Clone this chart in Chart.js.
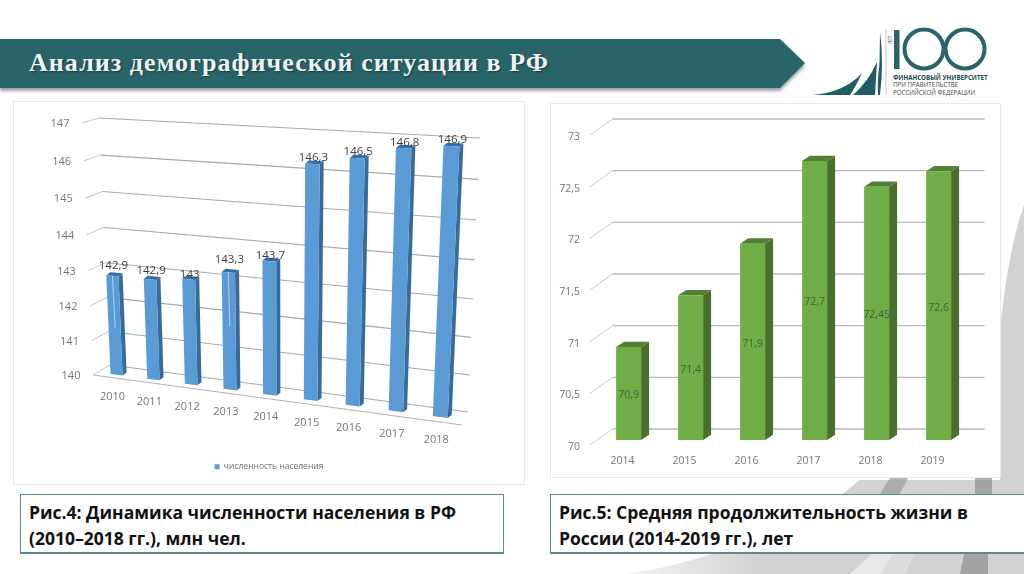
<!DOCTYPE html>
<html lang="ru">
<head>
    <meta charset="UTF-8">
    <title>Анализ демографической ситуации в РФ</title>
    <script src="https://cdn.jsdelivr.net/npm/chart.js"></script>
    <style>
        html, body {
            margin: 0;
            width: 1024px;
            height: 574px;
            overflow: hidden;
            background: #fff;
            font-family: "Open Sans", sans-serif;
        }
        .abs { position: absolute; }
        .header-text {
            left: 29px;
            top: 46px;
            font: bold 26px/34px "Liberation Serif", serif;
            letter-spacing: 1.05px;
            color: #eef4f4;
            text-shadow: 1px 1px 2px rgba(0, 0, 0, .45);
            white-space: nowrap;
        }
        .card {
            background: #fff;
            border: 1px solid #e8e8e8;
            box-sizing: border-box;
        }
        .caption {
            background: #fff;
            border: 1.5px solid #5e8a8e;
            border-bottom-width: 2px;
            box-sizing: border-box;
            top: 494px;
            height: 60px;
            padding: 5px 0 0 8px;
            font: bold 17.5px/25.5px "Open Sans", sans-serif;
            color: #111;
            white-space: nowrap;
        }
    </style>
</head>
<body>
    <!-- background swoosh and header shape -->
    <svg class="abs" style="left:0;top:0" width="1024" height="574" viewBox="0 0 1024 574">
        <defs>
            <filter id="soft"><feGaussianBlur stdDeviation="1.4"/></filter>
            <linearGradient id="fade" x1="625" x2="760" y1="0" y2="0" gradientUnits="userSpaceOnUse">
                <stop offset="0" stop-color="#f4f4f4"/>
                <stop offset="1" stop-color="#d2d2d2"/>
            </linearGradient>
        </defs>
        <path d="M1024 205 Q1008 250 1000 330 L1000 480 L860 480 L835 500 L835 554 L712 554 Q670 568 625 574 L1024 574 Z" fill="url(#fade)"/>
        <path d="M880 574 L893 554 L915 554 L905 574 Z M880 494 L890 478 L908 478 L900 494 Z" fill="#9a9a9a" opacity=".7"/>
        <path d="M960 574 L964 554 L988 554 L988 574 Z M975 494 L975 478 L992 478 L992 494 Z" fill="#8f8f8f" opacity=".7"/>
        <path d="M905 574 L915 554 L872 554 L850 574 Z" fill="#f1f1f1" opacity=".7"/>
        <path d="M0 42 L780 42 L805 66 L780 91 L0 91 Z" fill="#555" opacity=".55" filter="url(#soft)"/>
        <path d="M0 39 L780 39 L805 63 L780 88 L0 88 Z" fill="#296468"/>

        <!-- logo -->
        <path d="M813 95 Q845 92 862 73 Q855 88 850 95 Z" fill="#1f5f63"/>
        <path d="M853 95 Q868 82 877 62 L875 95 Z" fill="#1f5f63"/>
        <path d="M878 95 Q882 60 880 32 L879 95 Z M880 95 Q884 62 880 32 L880 95 Z" fill="#1f5f63"/>
        <path d="M880 62 Q877 80 878 95 L880 95 Z" fill="#1f5f63"/>
        <line x1="886" y1="29" x2="886" y2="95" stroke="#ccc"/>
        <rect x="894" y="30" width="5.5" height="39" fill="#296468"/>
        <circle cx="924" cy="49" r="19.5" fill="none" stroke="#296468" stroke-width="4"/>
        <circle cx="965" cy="49" r="19.5" fill="none" stroke="#296468" stroke-width="4"/>
        <text x="893" y="80" font-family="Open Sans" font-weight="700" font-size="6.2" fill="#1d4a4d">ФИНАНСОВЫЙ УНИВЕРСИТЕТ</text>
        <text x="893" y="87" font-family="Open Sans" font-size="6.2" fill="#444">ПРИ ПРАВИТЕЛЬСТВЕ</text>
        <text x="893" y="95" font-family="Open Sans" font-size="6.2" fill="#444">РОССИЙСКОЙ ФЕДЕРАЦИИ</text>
        <text transform="translate(892 44) rotate(-90)" font-family="Open Sans" font-size="4.5" fill="#444">ЛЕТ</text>
    </svg>

    <div class="abs header-text">Анализ демографической ситуации в РФ</div>

    <div class="abs card" style="left:13px;top:101px;width:512px;height:384px"></div>
    <div class="abs card" style="left:550px;top:103px;width:451px;height:375px"></div>
    <canvas class="abs" id="populationChart" width="510" height="382" style="left:14px;top:102px"></canvas>
    <canvas class="abs" id="lifeChart" width="449" height="373" style="left:551px;top:104px"></canvas>

    <div class="abs caption" style="left:20px;width:484px">Рис.4: Динамика численности населения в РФ<br>(2010–2018 гг.), млн чел.</div>
    <div class="abs caption" style="left:550px;width:490px">Рис.5: Средняя продолжительность жизни в<br>России (2014-2019 гг.), лет</div>

    <script>
        // Values
        const popYears = ['2010', '2011', '2012', '2013', '2014', '2015', '2016', '2017', '2018'];
        const popValues = [142.9, 142.9, 143, 143.3, 143.7, 146.3, 146.5, 146.8, 146.9];
        const popTicks = [140, 141, 142, 143, 144, 145, 146, 147];
        const popLabel = 'численность населения';
        const popGlints = [0, 3]; // the two bars with a light streak on them

        const lifeYears = ['2014', '2015', '2016', '2017', '2018', '2019'];
        const lifeValues = [70.9, 71.4, 71.9, 72.7, 72.45, 72.6];
        const lifeTicks = [70, 70.5, 71, 71.5, 72, 72.5, 73];

        // how far each data label sits above its bar in the left chart, not evenly placed in the original
        const popLabelLift = [10, 9, 5, 13, 5, 6, 6, 5, 6];

        const comma = v => String(v).replace('.', ',');

        function text(ctx, str, x, y, font, color, align) {
            ctx.font = font;
            ctx.fillStyle = color;
            ctx.textAlign = align || 'center';
            ctx.textBaseline = 'middle';
            ctx.fillText(str, x, y);
        }

        function segment(ctx, a, b, color, width) {
            ctx.beginPath();
            ctx.moveTo(a[0], a[1]);
            ctx.lineTo(b[0], b[1]);
            ctx.strokeStyle = color;
            ctx.lineWidth = width;
            ctx.stroke();
        }

        function face(ctx, pts, color) {
            ctx.beginPath();
            pts.forEach((p, i) => i ? ctx.lineTo(p[0], p[1]) : ctx.moveTo(p[0], p[1]));
            ctx.closePath();
            ctx.fillStyle = color;
            ctx.fill();
        }

        // Homography from the unit square to a quad [TL, TR, BR, BL], page coordinates
        function quadMap(q) {
            const [x0, y0] = q[0], [x1, y1] = q[1], [x2, y2] = q[2], [x3, y3] = q[3];
            const dx1 = x1 - x2, dx2 = x3 - x2, sx = x0 - x1 + x2 - x3;
            const dy1 = y1 - y2, dy2 = y3 - y2, sy = y0 - y1 + y2 - y3;
            const det = dx1 * dy2 - dx2 * dy1;
            const g = (sx * dy2 - dx2 * sy) / det, h = (dx1 * sy - sx * dy1) / det;
            const a = x1 - x0 + g * x1, b = x3 - x0 + h * x3;
            const d = y1 - y0 + g * y1, e = y3 - y0 + h * y3;
            return (s, t) => {
                const w = g * s + h * t + 1;
                return [(a * s + b * t + x0) / w, (d * s + e * t + y0) / w];
            };
        }

        // Left chart: tilted view, three planes of the 3D box
        const popOrigin = [14, 102];
        const wallMap = quadMap([[99, 118], [480, 138], [468, 412], [110, 365]]);
        const edgeMap = quadMap([[82, 123], [475, 145], [462, 425], [93, 375]]);
        const barMap = quadMap([[87, 126], [476, 143], [463, 420], [98.5, 372.4]]);

        const tiltedView = {
            id: 'tiltedView',
            beforeDatasetsDraw(chart) {
                const ctx = chart.ctx, area = chart.chartArea, yScale = chart.scales.y;
                const toPlane = (map, x, y) => {
                    const p = map((x - area.left) / area.width, (y - area.top) / area.height);
                    return [p[0] - popOrigin[0], p[1] - popOrigin[1]];
                };
                ctx.save();
                // grid on the back wall, stubs and axis labels in front of it
                popTicks.forEach(v => {
                    const y = yScale.getPixelForValue(v);
                    const front = toPlane(edgeMap, area.left, y);
                    const back = toPlane(wallMap, area.left, y);
                    segment(ctx, back, toPlane(wallMap, area.right, y), '#a8a8a8', 1.1);
                    segment(ctx, front, back, '#c4c4c4', 1);
                    text(ctx, String(v), front[0] - 22, front[1] + 1, '11px "Open Sans"', '#757575');
                });
                segment(ctx, toPlane(edgeMap, area.left, area.bottom), toPlane(edgeMap, area.right, area.bottom), '#b4b4b4', 1.1);

                const foot = yScale.getBasePixel();
                chart.getDatasetMeta(0).data.forEach((bar, i) => {
                    const half = bar.width / 2;
                    const tl = toPlane(barMap, bar.x - half, bar.y), tr = toPlane(barMap, bar.x + half, bar.y);
                    const br = toPlane(barMap, bar.x + half, foot), bl = toPlane(barMap, bar.x - half, foot);
                    const shift = p => [p[0] + 4, p[1] - 3];
                    face(ctx, [tr, shift(tr), shift(br), br], '#376b9c');
                    face(ctx, [tl, shift(tl), shift(tr), tr], '#336da3');
                    face(ctx, [tl, tr, br, bl], '#5b9bd5');
                    if (popGlints.includes(i)) {
                        const from = toPlane(barMap, bar.x, bar.y);
                        const to = toPlane(barMap, bar.x + 1, yScale.getPixelForValue(popValues[i] - 1.5));
                        segment(ctx, from, to, 'rgba(214,226,236,.75)', 1);
                    }
                    const top = toPlane(barMap, bar.x, bar.y);
                    text(ctx, comma(popValues[i]), top[0] + 1, top[1] - popLabelLift[i], '11.5px "Open Sans"', '#404040');
                    const base = toPlane(barMap, bar.x, foot);
                    text(ctx, popYears[i], base[0] - 4, base[1] + 22.5, '11px "Open Sans"', '#757575');
                });
                ctx.restore();
                return false; // bars were drawn above, in perspective
            }
        };

        new Chart(document.getElementById('populationChart'), {
            type: 'bar',
            data: {
                labels: popYears,
                datasets: [{
                    label: popLabel,
                    data: popValues,
                    backgroundColor: '#5b9bd5',
                    barPercentage: 0.33,
                    categoryPercentage: 1
                }]
            },
            options: {
                responsive: false,
                animation: false,
                layout: { padding: { bottom: 3 } },
                scales: {
                    x: { display: false },
                    y: { display: false, min: popTicks[0], max: popTicks[popTicks.length - 1] }
                },
                plugins: {
                    tooltip: { enabled: false },
                    legend: {
                        position: 'bottom',
                        onClick: null,
                        labels: {
                            boxWidth: 5,
                            boxHeight: 5,
                            padding: 6,
                            color: '#6f6f6f',
                            font: { family: '"Open Sans"', size: 8.5 }
                        }
                    }
                }
            },
            plugins: [tiltedView]
        });

        // Right chart: straight-on view, library bars plus side and top faces
        const lifeDepth = { x: 8, y: -5.3 };
        const wallShift = { x: 15, y: -11 };

        const boxView = {
            id: 'boxView',
            beforeDatasetsDraw(chart) {
                const ctx = chart.ctx, area = chart.chartArea, yScale = chart.scales.y;
                ctx.save();
                lifeTicks.forEach(v => {
                    const y = yScale.getPixelForValue(v);
                    const back = [area.left + wallShift.x, y + wallShift.y];
                    const front = [area.left - 7.6, y + 5];
                    segment(ctx, back, [area.right + wallShift.x, y + wallShift.y], '#b9b9b9', 1.4);
                    segment(ctx, front, back, '#c9c9c9', 1);
                    text(ctx, comma(v), front[0] - 10, front[1] + 2, '10.5px "Open Sans"', '#757575', 'right');
                });
                const foot = yScale.getBasePixel();
                chart.getDatasetMeta(0).data.forEach((bar, i) => {
                    const l = bar.x - bar.width / 2, r = bar.x + bar.width / 2;
                    const dx = lifeDepth.x, dy = lifeDepth.y;
                    face(ctx, [[r, bar.y], [r + dx, bar.y + dy], [r + dx, foot + dy], [r, foot]], '#486f2b');
                    face(ctx, [[l, bar.y], [l + dx, bar.y + dy], [r + dx, bar.y + dy], [r, bar.y]], '#527f32');
                    text(ctx, lifeYears[i], bar.x - 6, foot + 21, '10.5px "Open Sans"', '#757575');
                });
                ctx.restore();
            },
            afterDatasetsDraw(chart) {
                const ctx = chart.ctx, foot = chart.scales.y.getBasePixel();
                ctx.save();
                chart.getDatasetMeta(0).data.forEach((bar, i) => {
                    text(ctx, comma(lifeValues[i]), bar.x, (bar.y + foot) / 2 + 2, '10.5px "Open Sans"', '#44603a');
                });
                ctx.restore();
            }
        };

        new Chart(document.getElementById('lifeChart'), {
            type: 'bar',
            data: {
                labels: lifeYears,
                datasets: [{
                    data: lifeValues,
                    backgroundColor: '#70ad47',
                    barPercentage: 0.403,
                    categoryPercentage: 1
                }]
            },
            options: {
                responsive: false,
                animation: false,
                layout: { padding: { left: 46.6, right: 30.4, top: 26, bottom: 37 } },
                scales: {
                    x: { display: false },
                    y: { display: false, min: lifeTicks[0], max: lifeTicks[lifeTicks.length - 1] }
                },
                plugins: {
                    tooltip: { enabled: false },
                    legend: { display: false }
                }
            },
            plugins: [boxView]
        });
    </script>
</body>
</html>
